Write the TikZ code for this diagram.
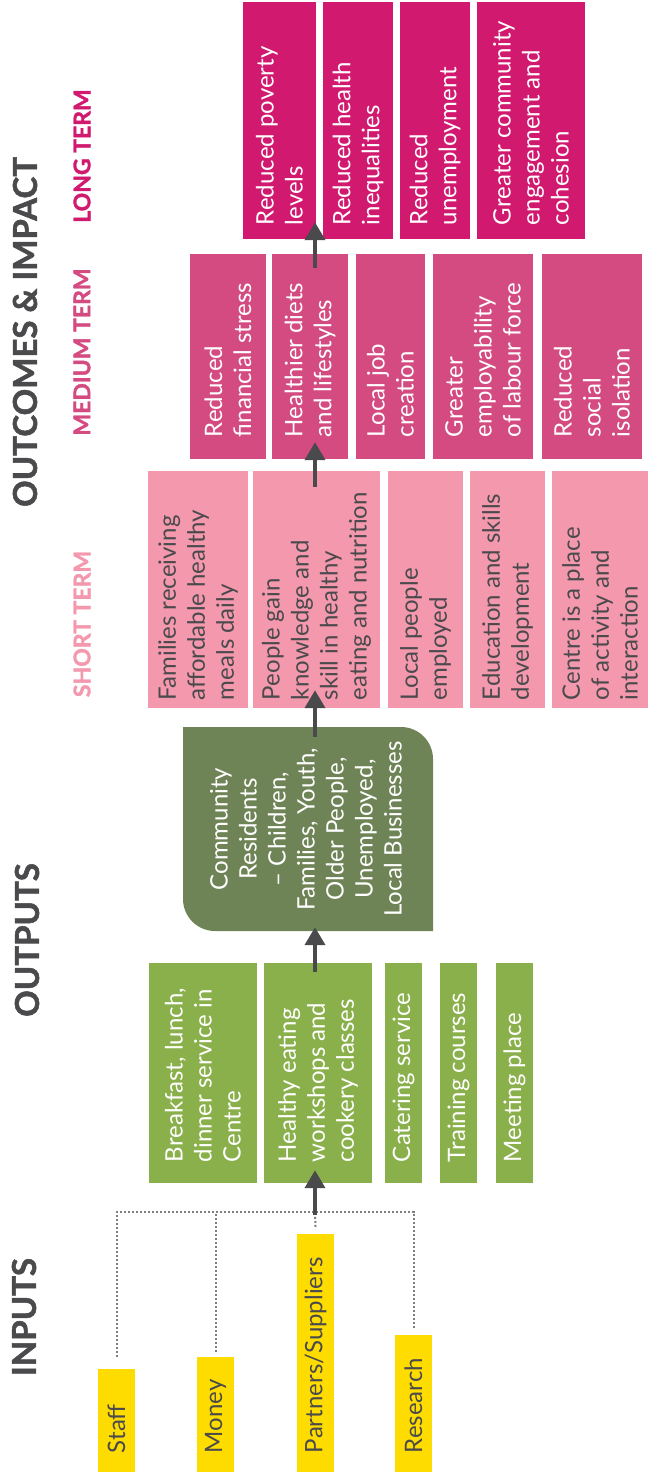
\documentclass[tikz,border=0pt]{standalone}
\usepackage{fontspec}
\setmainfont{Lato}
\newfontfamily\headfont{Lato}[BoldFeatures={FakeBold=1.6}]
\usetikzlibrary{arrows.meta}

\definecolor{inyellow}{HTML}{FFDC00}
\definecolor{outgreen}{HTML}{8AB04B}
\definecolor{commgreen}{HTML}{6F8456}
\definecolor{shortpink}{HTML}{F498AE}
\definecolor{medpink}{HTML}{D44B81}
\definecolor{longpink}{HTML}{D11A6F}
\definecolor{inkgray}{HTML}{4A4A4C}
\definecolor{dotgray}{HTML}{7E7E80}

\tikzset{
  box/.style={rotate=90, inner ysep=0pt, align=flush left, font=\fontsize{24}{29}\selectfont},
  longbox/.style={box, fill=longpink, text=white, minimum width=237pt, inner xsep=14pt, text width=209pt},
  medbox/.style={box, fill=medpink, text=white, minimum width=205pt, inner xsep=22pt, text width=161pt},
  shortbox/.style={box, fill=shortpink, text=inkgray, minimum width=237pt, inner xsep=8pt, text width=221pt},
  outbox/.style={box, fill=outgreen, text=white, minimum width=220pt, inner xsep=21pt, text width=178pt},
  inbox/.style={box, fill=inyellow, text=inkgray, minimum height=37pt, inner xsep=19pt},
  head/.style={rotate=90, text=inkgray, font=\fontsize{33}{33}\selectfont\headfont\bfseries},
  term/.style={rotate=90, font=\fontsize{23}{23}\selectfont\headfont\bfseries},
  arr/.style={-{Triangle[length=18pt,width=20pt]}, line width=4pt, draw=inkgray},
  dotline/.style={draw=dotgray, line width=2pt, dash pattern=on 2pt off 2pt}
}

\begin{document}
\begin{tikzpicture}[x=1pt, y=1pt]
  \useasboundingbox (0,0) rectangle (648,-1480);

  % titres
  \node[head] (tin) at (24,-1317) {INPUTS};
  \node[head] (tout) at (27,-940) {OUTPUTS};
  \node[head] (timp) at (25,-332) {OUTCOMES \& IMPACT};
  \node[term, text=shortpink] (tshort) at (82,-624) {SHORT TERM};
  \node[term, text=medpink] (tmed) at (82,-352) {MEDIUM TERM};
  \node[term, text=longpink] (tlong) at (82,-156) {LONG TERM};

  % long terme
  \node[longbox, minimum height=73pt] (L1) at (279.5,-120.5) {Reduced poverty\\levels};
  \node[longbox, minimum height=70pt] (L2) at (358,-120.5) {Reduced health\\inequalities};
  \node[longbox, minimum height=70pt] (L3) at (435,-120.5) {Reduced\\unemployment};
  \node[longbox, minimum height=108pt] (L4) at (531,-120.5) {Greater community\\engagement and\\cohesion};

  % moyen terme
  \node[medbox, minimum height=76pt] (M1) at (228,-356.5) {Reduced\\financial stress};
  \node[medbox, minimum height=76pt] (M2) at (310,-356.5) {Healthier diets\\and lifestyles};
  \node[medbox, minimum height=69pt] (M3) at (390.5,-356.5) {Local job\\creation};
  \node[medbox, minimum height=100pt] (M4) at (483,-356.5) {Greater\\employability\\of labour force};
  \node[medbox, minimum height=100pt] (M5) at (592,-356.5) {Reduced\\social\\isolation};

  % court terme
  \node[shortbox, minimum height=100pt] (S1) at (198,-589.5) {Families receiving\\affordable healthy\\meals daily};
  \node[shortbox, minimum height=127pt] (S2) at (316.5,-589.5) {People gain\\knowledge and\\skill in healthy\\eating and nutrition};
  \node[shortbox, minimum height=75pt] (S3) at (425.5,-589.5) {Local people\\employed};
  \node[shortbox, minimum height=75pt] (S4) at (507.5,-589.5) {Education and skills\\development};
  \node[shortbox, minimum height=96pt] (S5) at (600,-589.5) {Centre is a place\\of activity and\\interaction};

  % public
  \fill[commgreen] (183,-727) -- (401,-727) arc[start angle=90, end angle=0, radius=32]
    -- (433,-931) -- (215,-931) arc[start angle=270, end angle=180, radius=32] -- cycle;
  \node[box, rotate=0, align=center, text=white, minimum width=204pt, minimum height=250pt]
    (comm) at (306,-829) {Community\\Residents\\– Children,\\Families, Youth,\\Older People,\\Unemployed,\\Local Businesses};

  % outputs
  \node[outbox, minimum height=108pt] (O1) at (203,-1073) {Breakfast, lunch,\\dinner service in\\Centre};
  \node[outbox, minimum height=108pt] (O2) at (318,-1073) {Healthy eating\\workshops and\\cookery classes};
  \node[outbox, minimum height=37pt] (O3) at (403.5,-1073) {Catering service};
  \node[outbox, minimum height=37pt] (O4) at (458.5,-1073) {Training courses};
  \node[outbox, minimum height=37pt] (O5) at (514.5,-1073) {Meeting place};

  % inputs
  \node[inbox, minimum width=103pt, text width=65pt] (staff) at (116.5,-1420.5) {Staff};
  \node[inbox, minimum width=115pt, text width=77pt] (money) at (215.5,-1414.5) {Money};
  \node[inbox, minimum width=238pt, text width=200pt] (partners) at (315.5,-1353) {Partners/Suppliers};
  \node[inbox, minimum width=137pt, text width=99pt] (research) at (413.5,-1403.5) {Research};

  \coordinate (junc) at (315,-1212);
  \draw[dotline] ([yshift=12pt]staff.east) -- (staff.east |- junc) -- (research.east |- junc) -- ([yshift=5pt]research.east);
  \draw[dotline] ([yshift=5pt]money.east) -- (money.east |- junc);
  \draw[dotline] ([yshift=7pt]partners.east) -- (junc);

  % fleches
  \draw[arr] ([yshift=-3pt]junc) -- ([yshift=13pt]junc |- O2.west);
  \draw[arr] ([yshift=-9pt]junc |- O2.east) -- ([yshift=4pt]junc |- comm.west);
  \draw[arr] ([yshift=-10pt]junc |- comm.east) -- ([yshift=18pt]junc |- S2.west);
  \draw[arr] ([yshift=-16pt]junc |- S2.east) -- ([yshift=17pt]junc |- M2.west);
  \draw[arr] ([yshift=-14pt]junc |- M2.east) -- ([yshift=17pt]junc |- L1.west);
\end{tikzpicture}
\end{document}
